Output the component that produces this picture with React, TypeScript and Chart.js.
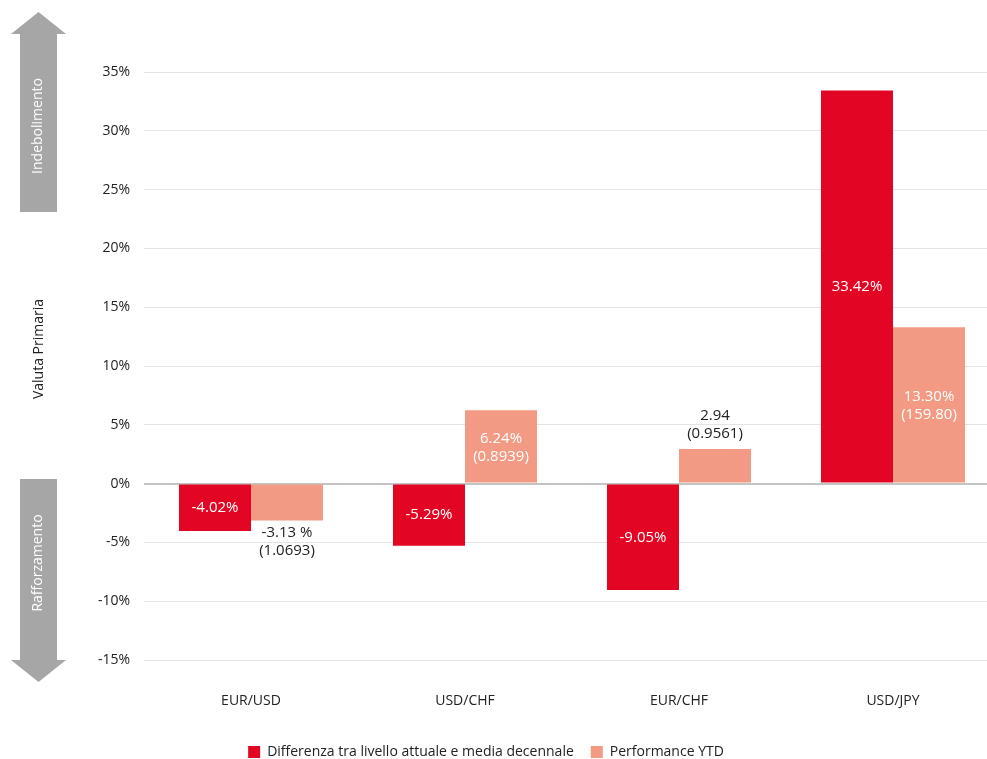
import React, { useEffect, useRef } from "react";
import { Chart, registerables } from "chart.js";
Chart.register(...registerables);

const categories = ["EUR/USD", "USD/CHF", "EUR/CHF", "USD/JPY"];
const seriesNames = ["Differenza tra livello attuale e media decennale", "Performance YTD"];
const diffValues = [-4.02, -5.29, -9.05, 33.42];
const ytdValues = [-3.13, 6.24, 2.94, 13.3];
const ytdLabels = ["-3.13 %", "6.24%", "2.94", "13.30%"];
const ytdLevels = ["(1.0693)", "(0.8939)", "(0.9561)", "(159.80)"];
const yMin = -15;
const yMax = 35;
const yStep = 5;
const upText = "Indebolimento";
const downText = "Rafforzamento";
const axisTitle = "Valuta Primaria";

const RED = "rgb(227,6,36)";
const PINK = "rgb(242,154,132)";
const GREY = "#a6a6a6";
const FONT = "'Open Sans', 'Noto Sans', sans-serif";

const labelPlugin = {
  id: "barLabels",
  afterDatasetsDraw(chart: any) {
    const ctx = chart.ctx;
    ctx.save();
    ctx.textAlign = "center";
    ctx.textBaseline = "middle";
    ctx.font = `15px ${FONT}`;
    const m0 = chart.getDatasetMeta(0);
    m0.data.forEach((el: any, i: number) => {
      ctx.fillStyle = "#ffffff";
      const v = diffValues[i];
      ctx.fillText(v.toFixed(2) + "%", el.x, (el.y + el.base) / 2);
    });
    const m1 = chart.getDatasetMeta(1);
    const lh = 18;
    m1.data.forEach((el: any, i: number) => {
      const h = Math.abs(el.base - el.y);
      const lines = [ytdLabels[i], ytdLevels[i]];
      let c: number;
      if (h > 48) {
        ctx.fillStyle = "#ffffff";
        c = (el.y + el.base) / 2 + 1;
      } else if (ytdValues[i] >= 0) {
        ctx.fillStyle = "#222222";
        c = el.y - 6 - lh;
      } else {
        ctx.fillStyle = "#222222";
        c = el.y + 3 + lh;
      }
      ctx.fillText(lines[0], el.x, c - lh / 2);
      ctx.fillText(lines[1], el.x, c + lh / 2);
    });
    ctx.restore();
  },
};

const decoPlugin = {
  id: "deco",
  afterDraw(chart: any) {
    const ctx = chart.ctx;
    ctx.save();
    ctx.fillStyle = GREY;
    ctx.beginPath();
    ctx.moveTo(38.5, 12);
    ctx.lineTo(66, 34);
    ctx.lineTo(57, 34);
    ctx.lineTo(57, 212);
    ctx.lineTo(20, 212);
    ctx.lineTo(20, 34);
    ctx.lineTo(11, 34);
    ctx.closePath();
    ctx.fill();
    ctx.beginPath();
    ctx.moveTo(20, 479);
    ctx.lineTo(57, 479);
    ctx.lineTo(57, 660);
    ctx.lineTo(66, 660);
    ctx.lineTo(38.5, 682);
    ctx.lineTo(11, 660);
    ctx.lineTo(20, 660);
    ctx.closePath();
    ctx.fill();
    ctx.font = `14px ${FONT}`;
    ctx.textAlign = "center";
    ctx.textBaseline = "middle";
    const rot = (t: string, x: number, y: number, color: string) => {
      ctx.save();
      ctx.translate(x, y);
      ctx.rotate(-Math.PI / 2);
      ctx.fillStyle = color;
      ctx.fillText(t, 0, 0);
      ctx.restore();
    };
    rot(upText, 38.5, 126, "#ffffff");
    rot(downText, 38.5, 563, "#ffffff");
    rot(axisTitle, 39, 349, "#222222");
    ctx.restore();
  },
};

export default function App() {
  const ref = useRef<HTMLCanvasElement>(null);
  useEffect(() => {
    if (!ref.current) return;
    const chart = new Chart(ref.current, {
      type: "bar",
      data: {
        labels: categories,
        datasets: [
          { label: seriesNames[0], data: diffValues, backgroundColor: RED },
          { label: seriesNames[1], data: ytdValues, backgroundColor: PINK },
        ],
      },
      options: {
        animation: false,
        responsive: false,
        maintainAspectRatio: false,
        layout: { padding: { left: -28, top: 72, right: 0, bottom: 0 } },
        datasets: { bar: { categoryPercentage: 0.673, barPercentage: 1 } },
        plugins: {
          legend: {
            position: "bottom",
            labels: {
              boxWidth: 12,
              boxHeight: 12,
              padding: 17,
              color: "#222222",
              font: { family: FONT, size: 14 },
            },
          },
          tooltip: { enabled: false },
        },
        scales: {
          x: {
            grid: { display: false, drawTicks: false },
            border: { display: false },
            ticks: { padding: 33, color: "#222222", font: { family: FONT, size: 14 } },
            afterFit: (s: any) => {
              s.height = 68;
            },
          },
          y: {
            min: yMin,
            max: yMax,
            ticks: {
              stepSize: yStep,
              padding: 14,
              color: "#222222",
              font: { family: FONT, size: 14 },
              callback: (v: any) => v + "%",
            },
            grid: {
              drawTicks: false,
              color: (c: any) => (c.tick && c.tick.value === 0 ? "#c4c4c4" : "#e4e4e4"),
              lineWidth: (c: any) => (c.tick && c.tick.value === 0 ? 2 : 1),
            },
            border: { display: false },
            afterFit: (s: any) => {
              s.width = 172;
            },
          },
        },
      },
      plugins: [labelPlugin, decoPlugin],
    });
    return () => chart.destroy();
  }, []);
  return (
    <div style={{ position: "fixed", left: 0, top: 0, width: 987, height: 759, overflow: "hidden", background: "#fff" }}>
      <canvas ref={ref} width={1000} height={769} style={{ display: "block", width: 1000, height: 769 }} />
    </div>
  );
}
